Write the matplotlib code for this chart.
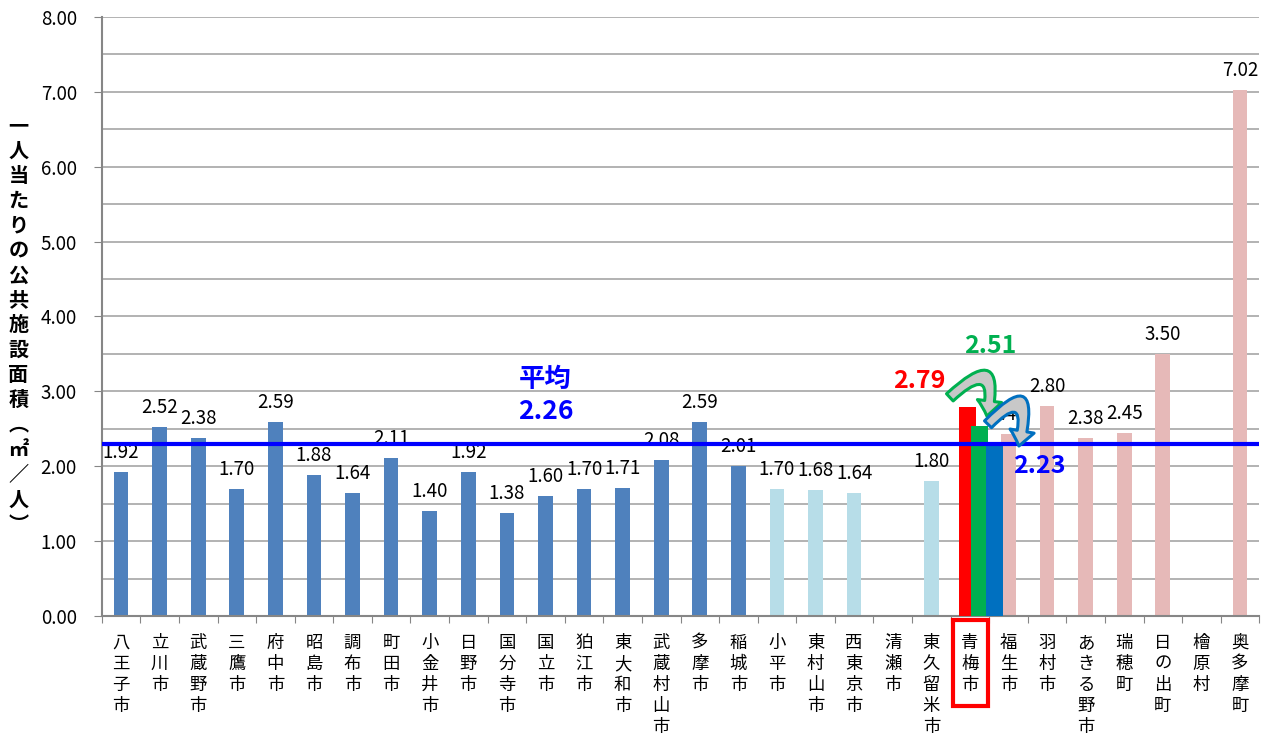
import matplotlib
matplotlib.use('Agg')
import numpy as np
import matplotlib.pyplot as plt
from matplotlib.patches import FancyArrowPatch, Rectangle
from matplotlib.path import Path
from matplotlib.transforms import blended_transform_factory

plt.rcParams['font.family'] = ['Noto Sans CJK JP', 'DejaVu Sans']

cities = ['八王子市', '立川市', '武蔵野市', '三鷹市', '府中市', '昭島市', '調布市',
          '町田市', '小金井市', '日野市', '国分寺市', '国立市', '狛江市', '東大和市',
          '武蔵村山市', '多摩市', '稲城市', '小平市', '東村山市', '西東京市', '清瀬市',
          '東久留米市', '青梅市', '福生市', '羽村市', 'あきる野市', '瑞穂町', '日の出町',
          '檜原村', '奥多摩町']

# city groups (by colour in the chart)
group_a = [1.92, 2.52, 2.38, 1.70, 2.59, 1.88, 1.64, 2.11, 1.40, 1.92,
           1.38, 1.60, 1.70, 1.71, 2.08, 2.59, 2.01]
group_b = [1.70, 1.68, 1.64, None, 1.80]
group_c = [2.43, 2.80, 2.38, 2.45, 3.50, None, 7.02]

# 青梅市: three bars (heights as drawn) and their labels
ome_heights = [2.79, 2.54, 2.30]
ome_labels = ['2.79', '2.51', '2.23']

avg_line = 2.30
avg_label = '平均\n2.26'

col_a = '#4F81BD'
col_b = '#B7DDE8'
col_c = '#E6B9B8'
ome_colors = ['#FF0000', '#00B050', '#0070C0']

fig = plt.figure(figsize=(12.72, 7.38), dpi=100)
ax = fig.add_axes([0.08, 0.1653, 0.91, 0.8117])

ome_idx = cities.index('青梅市')
series = [(0, group_a, col_a), (17, group_b, col_b), (ome_idx + 1, group_c, col_c)]
for start, vals, col in series:
    for k, v in enumerate(vals):
        if v is None:
            continue
        x = start + k
        ax.bar(x, v, width=0.38, color=col, zorder=2)
        ax.text(x, v + 0.26, f'{v:.2f}', ha='center', va='center', fontsize=13.5, zorder=3)

# 青梅市 bars
offsets = [-0.07, 0.25, 0.63]
for off, h, c in zip(offsets, ome_heights, ome_colors):
    ax.bar(ome_idx + off, h, width=0.44, color=c, zorder=4)

ax.axhline(avg_line, color='#0000FF', lw=3, zorder=5)

ax.text(11.0, 2.95, avg_label, color='#0000FF', fontsize=19, fontweight='bold',
        ha='center', va='center', linespacing=1.25, zorder=6)
ax.text(20.70, 3.14, ome_labels[0], color=ome_colors[0], fontsize=18, fontweight='bold',
        ha='center', va='center', zorder=6)
ax.text(22.52, 3.60, ome_labels[1], color=ome_colors[1], fontsize=18, fontweight='bold',
        ha='center', va='center', zorder=6)
ax.text(23.80, 2.00, ome_labels[2], color='#0000FF', fontsize=18, fontweight='bold',
        ha='center', va='center', zorder=6)

# curved arrows (quadratic curves: tail, control, head)
arr_style = 'simple,head_length=0.5,head_width=0.8,tail_width=0.32'
green_path = Path([(21.48, 2.92), (22.82, 3.56), (22.44, 2.67)],
                  [Path.MOVETO, Path.CURVE3, Path.CURVE3])
blue_path = Path([(22.47, 2.56), (23.72, 3.22), (23.27, 2.27)],
                 [Path.MOVETO, Path.CURVE3, Path.CURVE3])
for p, ec in [(green_path, ome_colors[1]), (blue_path, ome_colors[2])]:
    ax.add_patch(FancyArrowPatch(path=p, arrowstyle=arr_style, mutation_scale=22,
                                 fc='#C8C8C8', ec=ec, lw=2.2, zorder=7))

# axes styling
ax.set_xlim(-0.5, len(cities) - 0.5)
ax.set_ylim(0, 8)
ax.set_yticks(np.arange(0, 8.01, 1))
ax.set_yticklabels([f'{t:.2f}' for t in np.arange(0, 8.01, 1)], fontsize=13.5)
ax.set_yticks(np.arange(0.5, 8, 1), minor=True)
ax.grid(axis='y', which='both', color='#A6A6A6', lw=1.2, zorder=0)
ax.tick_params(axis='y', which='major', length=6, color='#868686', pad=12)
ax.tick_params(axis='y', which='minor', length=0)
ax.set_xticks(np.arange(-0.5, len(cities), 1))
ax.set_xticklabels([])
ax.tick_params(axis='x', length=5, color='#868686')
for s in ['top', 'right']:
    ax.spines[s].set_visible(False)
for s in ['left', 'bottom']:
    ax.spines[s].set_color('#868686')
    ax.spines[s].set_linewidth(1.5)

trans = blended_transform_factory(ax.transData, ax.transAxes)
for i, name in enumerate(cities):
    ax.text(i, -0.03, '\n'.join(name), transform=trans, ha='center', va='top',
            fontsize=12.5, linespacing=1.22)

ax.add_patch(Rectangle((ome_idx - 0.45, -0.150), 0.92, 0.143, transform=trans,
                       fill=False, ec='#FF0000', lw=3, clip_on=False, zorder=8))

ylabel = '一人当たりの公共施設面積︵㎡／人︶'
fig.text(0.0145, 0.56, '\n'.join(ylabel), ha='center', va='center',
         fontsize=14.5, fontweight='bold', linespacing=1.23)

fig.savefig('out.png', dpi=100)
